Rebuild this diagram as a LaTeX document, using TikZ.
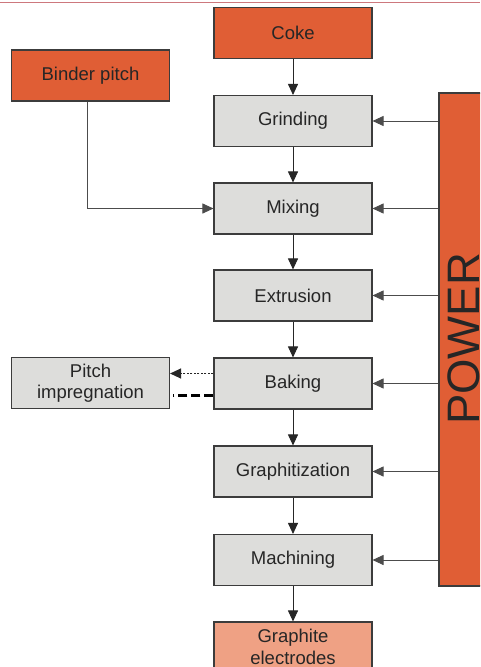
\documentclass[tikz,border=0pt]{standalone}
\usepackage{fontspec}
\setmainfont{Liberation Sans}
\usetikzlibrary{arrows.meta}
\definecolor{rawred}{RGB}{224,94,53}
\definecolor{stepgray}{RGB}{221,221,219}
\definecolor{productred}{RGB}{239,161,132}
\definecolor{edgegray}{RGB}{60,60,60}
\definecolor{rulered}{RGB}{205,120,125}
\begin{document}
\begin{tikzpicture}[x=1pt,y=-1pt,
  box/.style={draw=edgegray,line width=1.1pt,minimum width=158pt,minimum height=51pt,
    inner sep=0pt,align=center,font=\fontsize{18.5}{21.5}\selectfont,text=black!85},
  stepbox/.style={box,fill=stepgray},
  rawbox/.style={box,fill=rawred},
  productbox/.style={box,fill=productred},
  arr/.style={draw=black!85,line width=0.9pt,-{Triangle[length=11pt,width=10pt]}},
  powerarr/.style={draw=black!70,line width=0.9pt,-{Triangle[length=11pt,width=10pt]}}]
\useasboundingbox (0,0) rectangle (480,667);
\clip (0,0) rectangle (480,667);
\fill[white] (0,0) rectangle (480,667);
\draw[rulered,line width=1pt] (0,2) -- (480,2);

% raw materials
\node[rawbox] (coke) at (293,33) {Coke};
\node[rawbox] (binder) at (90.5,75.5) {Binder pitch};

% process chain
\node[stepbox] (grinding) at (293,121) {Grinding};
\node[stepbox] (mixing) at (293,208.5) {Mixing};
\node[stepbox] (extrusion) at (293,295.5) {Extrusion};
\node[stepbox] (baking) at (293,383.5) {Baking};
\node[stepbox] (graphitization) at (293,471.5) {Graphitization};
\node[stepbox] (machining) at (293,560) {Machining};
\node[productbox,minimum height=50pt] (electrodes) at (293,647) {Graphite\\electrodes};

% side loop
\node[stepbox] (pitch) at (90.5,383) {Pitch\\impregnation};

% power supply bar
\node[draw=edgegray,line width=1.1pt,fill=rawred,minimum width=54pt,minimum height=493pt,inner sep=0pt]
  (power) at (466,339.5) {};
\node[rotate=90,anchor=base,inner sep=0pt,font=\fontsize{45.5}{50}\selectfont,text=black!85]
  (powertext) at (479.5,339) {POWER};

% main flow
\draw[arr] (coke) -- (grinding);
\draw[arr] (grinding) -- (mixing);
\draw[arr] (mixing) -- (extrusion);
\draw[arr] (extrusion) -- (baking);
\draw[arr] (baking) -- (graphitization);
\draw[arr] (graphitization) -- (machining);
\draw[arr] (machining) -- (electrodes);

% binder feed
\draw[arr,draw=black!70] ([xshift=-3.5pt]binder.south) |- (mixing.west);

% impregnation loop: dotted return above, heavy dashed link below
\draw[arr,line width=1.2pt,dash pattern=on 2pt off 1.5pt] ([yshift=10pt]baking.west) -- ([yshift=10pt]baking.west -| pitch.east);
\draw[black,line width=3.5pt,dash pattern=on 9pt off 4pt] ([yshift=-12pt]baking.west) -- ([yshift=-12pt,xshift=3pt]baking.west -| pitch.east);

% power distribution
\foreach \n in {grinding,mixing,extrusion,baking,graphitization,machining}
  \draw[powerarr] (\n.east -| power.west) -- (\n.east);
\end{tikzpicture}
\end{document}
